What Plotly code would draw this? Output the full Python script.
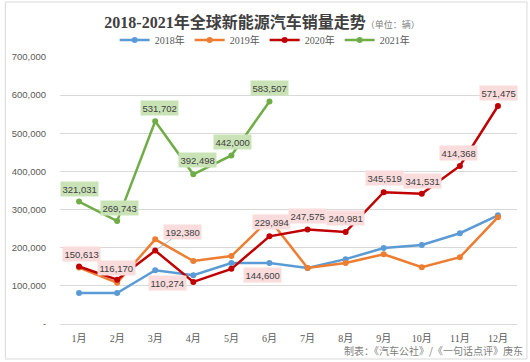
import plotly.graph_objects as go

months = ["1月", "2月", "3月", "4月", "5月", "6月", "7月", "8月", "9月", "10月", "11月", "12月"]
sales_2018 = [81000, 81000, 141000, 128000, 160000, 160000, 147000, 170000, 199000, 207000, 238000, 285000]
sales_2019 = [148000, 108000, 222000, 165000, 178000, 275000, 147000, 160000, 183000, 149000, 175000, 280000]
sales_2020 = [150613, 116170, 192380, 110274, 144600, 229894, 247575, 240981, 345519, 341531, 414368, 571475]
sales_2021 = [321031, 269743, 531702, 392498, 442000, 583507]
y_ticks = [0, 100000, 200000, 300000, 400000, 500000, 600000, 700000]
y_tick_text = ["-", "100,000", "200,000", "300,000", "400,000", "500,000", "600,000", "700,000"]

# label offsets in pixels (style only)
off_2020 = [(2, -13), (-1, -12), (27, -19), (-26, 1), (31, 6), (2, -14), (0, -14), (0, -14), (1, -14), (1, -13), (-1, -13), (1, -13)]
off_2021 = [(0, -13), (2, -13), (4, -13), (4, -14), (1, -13), (0, -13)]

colors = {"2018年": "#5b9bd5", "2019年": "#ed7d31", "2020年": "#c00000", "2021年": "#70ad47"}

fig = go.Figure()
for name, vals in [("2018年", sales_2018), ("2019年", sales_2019), ("2020年", sales_2020), ("2021年", sales_2021)]:
    fig.add_trace(go.Scatter(
        x=months[:len(vals)], y=vals, name=name, mode="lines+markers",
        line=dict(color=colors[name], width=2.5),
        marker=dict(color=colors[name], size=6),
    ))

annotations = []
for m, v, (dx, dy) in zip(months, sales_2020, off_2020):
    lead = abs(dx) > 20 and dy < -15
    annotations.append(dict(
        x=m, y=v, xref="x", yref="y", text=f"{v:,}", showarrow=True,
        ax=dx, ay=dy, arrowhead=0, arrowwidth=0.8, standoff=3,
        arrowcolor="#a6a6a6" if lead else "rgba(0,0,0,0)",
        bgcolor="#fadcdc", borderpad=1.5,
        font=dict(size=9.5, color="#404040", family="Liberation Sans, Arial"),
    ))
for m, v, (dx, dy) in zip(months, sales_2021, off_2021):
    annotations.append(dict(
        x=m, y=v, xref="x", yref="y", text=f"{v:,}", showarrow=True,
        ax=dx, ay=dy, arrowhead=0, arrowcolor="rgba(0,0,0,0)",
        bgcolor="#c9e3b7", borderpad=1.5,
        font=dict(size=9.5, color="#404040", family="Liberation Sans, Arial"),
    ))
annotations.append(dict(
    x=(525 - 57) / 460, y=(324 - 350) / 267, xref="paper", yref="paper",
    xanchor="right", yanchor="middle", showarrow=False,
    text="制表：《汽车公社》/《一句话点评》庚东",
    font=dict(size=10, color="#808080", family="Noto Sans CJK SC"),
))

fig.update_layout(
    width=530, height=362,
    margin=dict(l=57, r=13, t=57, b=38),
    paper_bgcolor="white", plot_bgcolor="white",
    title=dict(
        text="<b>2018-2021年全球新能源汽车销量走势</b><span style='font-size:9px;color:#808080'>（单位：辆）</span>",
        x=262 / 530, xanchor="center", y=1 - 22 / 362, yanchor="middle",
        font=dict(size=16, color="#404040", family="Liberation Serif, Noto Sans CJK SC"),
    ),
    legend=dict(
        orientation="h", x=(263 - 57) / 460, xanchor="center",
        y=(324 - 40) / 267, yanchor="middle",
        font=dict(size=10, color="#595959", family="Liberation Serif, Noto Sans CJK SC"),
        itemwidth=30, bgcolor="rgba(0,0,0,0)",
    ),
    xaxis=dict(
        type="category", categoryorder="array", categoryarray=months,
        range=[-0.5, 11.5], showgrid=False, showline=True, linecolor="#d9d9d9",
        ticks="outside", ticklen=5, tickcolor="rgba(0,0,0,0)",
        tickfont=dict(size=10, color="#595959", family="Liberation Serif, Noto Sans CJK SC"),
    ),
    yaxis=dict(
        range=[0, 700000], tickvals=y_ticks, ticktext=y_tick_text,
        showgrid=True, gridcolor="#d9d9d9", gridwidth=1, zeroline=False,
        ticks="outside", ticklen=11, tickcolor="rgba(0,0,0,0)",
        tickfont=dict(size=9.5, color="#595959", family="Liberation Sans, Arial"),
    ),
    annotations=annotations,
    shapes=[dict(type="rect", xref="paper", yref="paper",
                 x0=(2 - 57) / 460, x1=(527 - 57) / 460,
                 y0=(324 - 359) / 267, y1=(324 - 2) / 267,
                 line=dict(color="#d9d9d9", width=1), layer="below")],
    showlegend=True,
)

fig.write_html(
    "out.html",
    config={"displayModeBar": False},
    post_script="document.body.style.margin='0';document.body.style.overflow='hidden';",
)
